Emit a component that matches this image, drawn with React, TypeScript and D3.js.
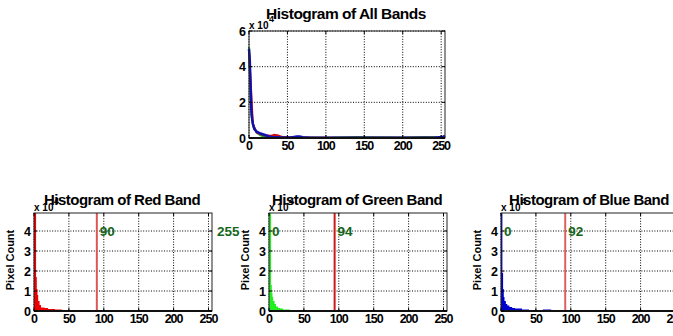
import React from "react";
import * as d3 from "d3";

// values are in units of 10^4 pixels
const xTicks = [0, 50, 100, 150, 200, 250];
const topYTicks = [0, 2, 4, 6];
const bandYTicks = [0, 1, 2, 3, 4];

const allBlueX = [0, 1, 2, 3, 4, 5, 7, 10, 15, 20, 25, 30, 40, 55, 62, 66, 70, 80, 120, 180, 240, 252, 255];
const allBlueY = [5.0, 4.4, 3.0, 1.6, 1.1, 0.8, 0.5, 0.35, 0.25, 0.18, 0.1, 0.06, 0.04, 0.03, 0.08, 0.08, 0.04, 0.02, 0.02, 0.02, 0.02, 0.06, 0.12];
const allRedX = [0, 5, 10, 20, 28, 33, 38, 44, 60, 100, 150, 200, 255];
const allRedY = [4.9, 0.8, 0.3, 0.15, 0.12, 0.18, 0.14, 0.05, 0.03, 0.01, 0.02, 0.01, 0.01];
const allGreenX = [0, 3, 6, 10, 15, 20, 30, 50, 100, 140, 160, 200, 230, 250, 255];
const allGreenY = [5.1, 1.3, 0.6, 0.3, 0.15, 0.08, 0.04, 0.03, 0.02, 0.05, 0.04, 0.03, 0.05, 0.04, 0.02];

const redBins = [0, 2, 3, 4, 5, 6, 8, 10, 15, 20, 30, 40, 60, 90, 118, 122, 132, 145, 152, 160, 200, 240, 256];
const redCounts = [4.9, 4.9, 1.7, 1.1, 0.8, 0.5, 0.3, 0.17, 0.15, 0.1, 0.08, 0.05, 0.03, 0.0, 0.04, 0.05, 0.02, 0.04, 0.05, 0.02, 0.01, 0.01, 0];
const greenBins = [0, 3, 4, 5, 6, 8, 10, 13, 16, 20, 30, 40, 55, 100, 130, 145, 165, 180, 256];
const greenCounts = [4.9, 1.3, 0.9, 0.7, 0.5, 0.35, 0.22, 0.15, 0.12, 0.08, 0.05, 0.03, 0.01, 0.01, 0.03, 0.05, 0.03, 0.01, 0];
const blueBins = [0, 2, 3, 4, 5, 7, 9, 12, 16, 20, 30, 40, 55, 60, 66, 72, 80, 120, 200, 256];
const blueCounts = [4.9, 1.9, 1.1, 0.7, 0.5, 0.35, 0.28, 0.2, 0.15, 0.12, 0.08, 0.05, 0.03, 0.08, 0.07, 0.03, 0.02, 0.02, 0.02, 0];

const bandNames = ["Red", "Green", "Blue"];
const bandLow = [90, 0, 0];
const bandHigh = [255, 94, 92];
const lowLabels = ["90", "0", "0"];
const highLabels = ["255", "94", "92"];

const font = "'Liberation Sans', Arial, sans-serif";
const labelGreen = "#16651a";

type Box = { left: number; top: number; width: number; height: number };

function Frame({ box, x, y, yTicks }: { box: Box; x: d3.ScaleLinear<number, number>; y: d3.ScaleLinear<number, number>; yTicks: number[] }) {
  const r = box.left + box.width;
  const b = box.top + box.height;
  return (
    <g>
      {xTicks.map(t => (
        <line key={"gx" + t} x1={x(t)} x2={x(t)} y1={box.top} y2={b} stroke="#000" strokeDasharray="1,1.6" strokeWidth={1} />
      ))}
      {yTicks.map(t => (
        <line key={"gy" + t} x1={box.left} x2={r} y1={y(t)} y2={y(t)} stroke="#000" strokeDasharray="1,1.6" strokeWidth={1} />
      ))}
    </g>
  );
}

function Axes({ box, x, y, yTicks }: { box: Box; x: d3.ScaleLinear<number, number>; y: d3.ScaleLinear<number, number>; yTicks: number[] }) {
  const r = box.left + box.width;
  const b = box.top + box.height;
  return (
    <g fontFamily={font} fontWeight="bold" fontSize={12.5}>
      <rect x={box.left} y={box.top} width={box.width} height={box.height} fill="none" stroke="#222" strokeWidth={1} />
      <line x1={box.left} x2={r} y1={b} y2={b} stroke="#111" strokeWidth={2} />
      {xTicks.map(t => (
        <g key={"tx" + t}>
          <line x1={x(t)} x2={x(t)} y1={b} y2={b - 3} stroke="#000" />
          <line x1={x(t)} x2={x(t)} y1={box.top} y2={box.top + 3} stroke="#000" />
          <text x={x(t)} y={b + 12} textAnchor="middle" letterSpacing={-1}>{t}</text>
        </g>
      ))}
      {yTicks.map(t => (
        <g key={"ty" + t}>
          <line x1={box.left} x2={box.left + 3} y1={y(t)} y2={y(t)} stroke="#000" />
          <line x1={r} x2={r - 3} y1={y(t)} y2={y(t)} stroke="#000" />
          <text x={box.left - 3} y={y(t) + 4.5} textAnchor="end">{t}</text>
        </g>
      ))}
      <text x={box.left} y={box.top - 2} fontSize={10}>x 10</text>
      <text x={box.left + 20} y={box.top - 9} fontSize={9}>4</text>
    </g>
  );
}

function TopChart() {
  const box: Box = { left: 249, top: 31, width: 196, height: 107 };
  const x = d3.scaleLinear().domain([0, 255]).range([box.left, box.left + box.width]);
  const y = d3.scaleLinear().domain([0, 6]).range([box.top + box.height, box.top]);
  const line = (xs: number[], ys: number[]) =>
    d3.line<number>().x(i => x(xs[i])).y(i => y(ys[i]))(d3.range(xs.length)) || "";
  return (
    <g>
      <Frame box={box} x={x} y={y} yTicks={topYTicks} />
      <path d={line(allGreenX, allGreenY)} fill="none" stroke="#1aa31a" strokeWidth={2} />
      <path d={line(allRedX, allRedY)} fill="none" stroke="#d01010" strokeWidth={2} />
      <path d={line(allBlueX, allBlueY)} fill="none" stroke="#1010b0" strokeWidth={2.5} />
      <Axes box={box} x={x} y={y} yTicks={topYTicks} />
      <text x={346} y={19} textAnchor="middle" fontFamily={font} fontWeight="bold" fontSize={15.5} letterSpacing={-0.5}>
        Histogram of All Bands
      </text>
    </g>
  );
}

function BandChart({ idx, left }: { idx: number; left: number }) {
  const box: Box = { left, top: 213, width: 178, height: 98 };
  const x = d3.scaleLinear().domain([0, 255]).range([box.left, box.left + box.width]);
  const y = d3.scaleLinear().domain([0, 4.9]).range([box.top + box.height, box.top]);
  const bins = [redBins, greenBins, blueBins][idx];
  const counts = [redCounts, greenCounts, blueCounts][idx];
  const fill = ["#ee0000", "#22ee22", "#0000cc"][idx];
  const threshColor = ["#dd5555", "#cc1818", "#dd6060"][idx];
  const area = d3.area<number>()
    .x(i => x(bins[i]))
    .y0(y(0))
    .y1(i => y(counts[i]))
    .curve(d3.curveStepAfter)(d3.range(bins.length)) || "";
  const lo = bandLow[idx];
  const hi = bandHigh[idx];
  return (
    <g>
      <Frame box={box} x={x} y={y} yTicks={bandYTicks} />
      <path d={area} fill={fill} />
      {[lo, hi].filter(v => v > 0 && v < 255).map(v => (
        <line key={v} x1={x(v)} x2={x(v)} y1={box.top} y2={box.top + box.height} stroke={threshColor} strokeWidth={2} />
      ))}
      <Axes box={box} x={x} y={y} yTicks={bandYTicks} />
      <g fontFamily={font} fontWeight="bold" fontSize={13.5} fill={labelGreen}>
        <text x={x(lo) + 3} y={y(4) + 5}>{lowLabels[idx]}</text>
        <text x={x(hi) + (hi === 255 ? 5 : 3)} y={y(4) + 5}>{highLabels[idx]}</text>
      </g>
      <text
        transform={`translate(${box.left - 20},${box.top + 47}) rotate(-90)`}
        textAnchor="middle"
        fontFamily={font}
        fontWeight="bold"
        fontSize={11}
      >
        Pixel Count
      </text>
      <text x={box.left + 88} y={205} textAnchor="middle" fontFamily={font} fontWeight="bold" fontSize={15} letterSpacing={-0.5}>
        {`Histogram of ${bandNames[idx]} Band`}
      </text>
    </g>
  );
}

export default function App() {
  return (
    <svg width={673} height={336} style={{ position: "fixed", left: 0, top: 0, background: "#fff" }}>
      <rect width={673} height={336} fill="#fff" />
      <TopChart />
      <BandChart idx={0} left={34} />
      <BandChart idx={1} left={269} />
      <BandChart idx={2} left={501} />
    </svg>
  );
}
